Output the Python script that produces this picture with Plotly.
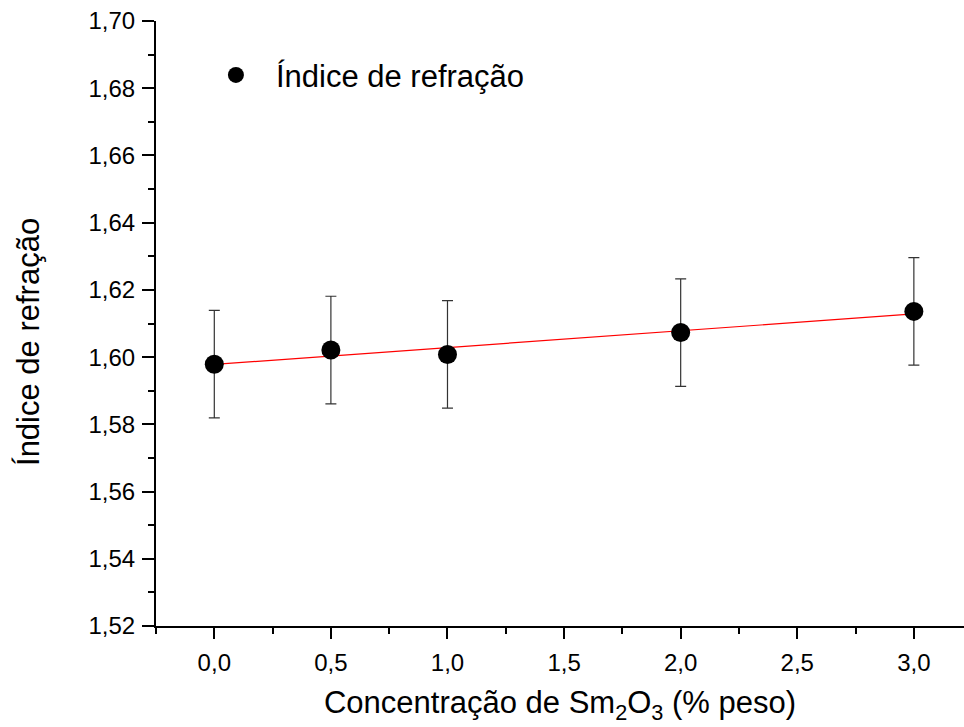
import numpy as np
import plotly.graph_objects as go

# Sm2O3 concentration (% weight) and measured refractive index
concentracao = [0.0, 0.5, 1.0, 2.0, 3.0]
indice = [1.5979, 1.6021, 1.6008, 1.6073, 1.6136]
erro = [0.016, 0.016, 0.016, 0.016, 0.016]

y_ticks = [1.52, 1.54, 1.56, 1.58, 1.60, 1.62, 1.64, 1.66, 1.68, 1.70]
x_ticks = [0.0, 0.5, 1.0, 1.5, 2.0, 2.5, 3.0]

# linear fit through the measured points
coef = np.polyfit(concentracao, indice, 1)
x_fit = np.array([min(concentracao), max(concentracao)])
y_fit = np.polyval(coef, x_fit)

FONT = "Liberation Sans, Arial, Helvetica, sans-serif"

fig = go.Figure()

fig.add_trace(go.Scatter(
    x=x_fit, y=y_fit, mode="lines",
    line=dict(color="#ff0000", width=1.2),
    showlegend=False, hoverinfo="skip",
))

fig.add_trace(go.Scatter(
    x=concentracao, y=indice, mode="markers",
    name="Índice de refração",
    marker=dict(color="black", size=19, symbol="circle"),
    error_y=dict(type="data", array=erro, visible=True,
                 color="#333333", thickness=1.2, width=5.5),
))

fig.update_layout(
    width=964, height=727,
    margin=dict(l=156, r=0, t=21, b=101),
    paper_bgcolor="white", plot_bgcolor="white",
    separators=",.",
    font=dict(family=FONT, color="black", size=24),
    legend=dict(
        x=0.0494, y=0.955, xanchor="left", yanchor="top",
        bgcolor="rgba(0,0,0,0)", borderwidth=0,
        font=dict(size=31, family=FONT),
        itemwidth=70,
    ),
    annotations=[dict(
        text="Índice de refração", textangle=-90,
        xref="paper", yref="paper", x=-0.158, y=0.47,
        xanchor="center", yanchor="middle", showarrow=False,
        font=dict(size=31, family=FONT),
    )],
)

fig.update_xaxes(
    range=[-0.25, 3.215],
    tickmode="array", tickvals=x_ticks,
    tickformat=".1f",
    showgrid=False, zeroline=False,
    showline=True, linecolor="black", linewidth=2,
    ticks="outside", ticklen=11, tickwidth=2, tickcolor="black",
    ticklabelstandoff=3,
    minor=dict(dtick=0.25, tick0=0, ticks="outside", ticklen=6,
               tickwidth=2, tickcolor="black", showgrid=False),
    tickfont=dict(size=24),
    title=dict(text="Concentração de Sm<sub>2</sub>O<sub>3</sub> (% peso)",
               font=dict(size=31), standoff=17),
)

fig.update_yaxes(
    range=[1.52, 1.70],
    tickmode="array", tickvals=y_ticks,
    tickformat=".2f",
    showgrid=False, zeroline=False,
    showline=True, linecolor="black", linewidth=2,
    ticks="outside", ticklen=12, tickwidth=2, tickcolor="black",
    ticklabelstandoff=2,
    minor=dict(dtick=0.01, tick0=1.52, ticks="outside", ticklen=6,
               tickwidth=2, tickcolor="black", showgrid=False),
    tickfont=dict(size=24),
)

fig.write_html("out.html")
